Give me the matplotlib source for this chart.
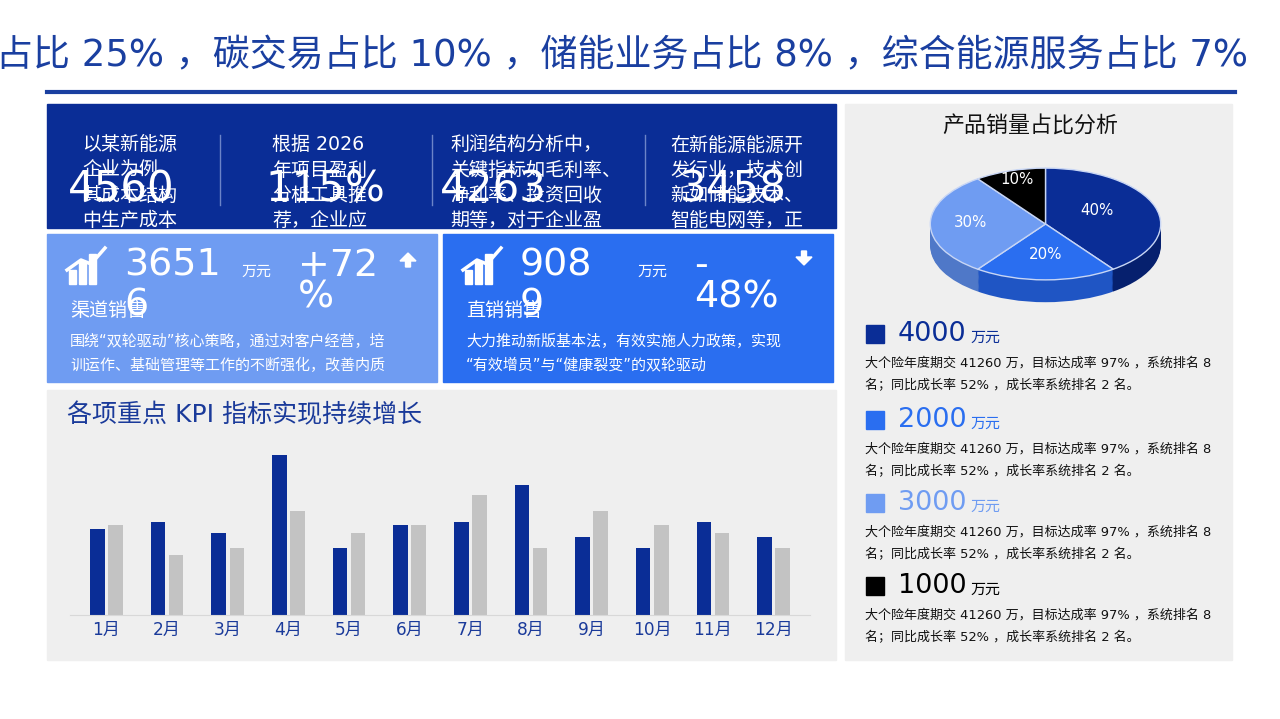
import matplotlib
matplotlib.use("Agg")
import matplotlib.pyplot as plt
from matplotlib.patches import Rectangle, FancyArrow

plt.rcParams['font.family'] = ['DejaVu Sans', 'Noto Sans CJK SC']

# data
months = ['1月', '2月', '3月', '4月', '5月', '6月', '7月', '8月', '9月', '10月', '11月', '12月']
kpi_blue = [86, 93, 82, 160, 67, 90, 93, 130, 78, 67, 93, 78]
kpi_gray = [90, 60, 67, 104, 82, 90, 120, 67, 104, 90, 82, 67]
pie_shares = [40, 20, 30, 10]
pie_labels = ['40%', '20%', '30%', '10%']
legend_values = ['4000', '2000', '3000', '1000']
top_numbers = ['4560', '115%', '4263', '3458']
top_texts = [['以某新能源', '企业为例', '其成本结构', '中生产成本'],
             ['根据 2026', '年项目盈利', '分析工具推', '荐，企业应'],
             ['利润结构分析中，', '关键指标如毛利率、', '净利率、投资回收', '期等，对于企业盈'],
             ['在新能源能源开', '发行业，技术创', '新如储能技术、', '智能电网等，正']]
desc = '大个险年度期交 41260 万，目标达成率 97% ，系统排名 8'
desc2 = '名；同比成长率 52% ，成长率系统排名 2 名。'

DARK = '#0a2d96'
MID = '#2a6ef0'
LIGHT = '#6f9cf2'
PANEL = '#efefef'
pie_colors = [DARK, MID, LIGHT, '#000000']
side_colors = ['#06206e', '#1f55c4', '#4f78c8', '#000000']

fig = plt.figure(figsize=(12.8, 7.19), dpi=100)
bg = fig.add_axes([0, 0, 1, 1])
bg.set_xlim(0, 1280)
bg.set_ylim(719, 0)
bg.axis('off')

def pt(px):
    return px * 0.72

# top scrolling title
bg.text(-4, 56, '占比 25% ，碳交易占比 10% ，储能业务占比 8% ，综合能源服务占比 7%',
        fontsize=pt(37), color='#1a3fa0', va='center', ha='left')
bg.plot([47, 1235], [92, 92], color='#1a3fa0', lw=3)

# dark top panel
top = Rectangle((47, 104), 789, 124, color=DARK)
bg.add_patch(top)
for x in [220, 432, 645]:
    bg.plot([x, x], [135, 205], color='#6c84c8', lw=1)
tx = [82, 272, 450, 670]
nx = [68, 265, 440, 680]
for i in range(4):
    for j, line in enumerate(top_texts[i]):
        t = bg.text(tx[i], 145 + j * 25, line, color='white', fontsize=pt(19), va='center')
        t.set_clip_path(top)
    t = bg.text(nx[i], 190, top_numbers[i], color='white', fontsize=pt(42), va='center')
    t.set_clip_path(top)

# two cards
def card(x0, color, num1, num2, pct1, pct2, name, lines, up):
    bg.add_patch(Rectangle((x0, 234), 390, 148, color=color))
    # icon
    for k, h in enumerate([14, 22, 30]):
        bg.add_patch(Rectangle((x0 + 22 + k * 10, 284 - h), 7, h, color='white'))
    bg.plot([x0 + 20, x0 + 34, x0 + 44, x0 + 58], [270, 260, 264, 248], color='white', lw=2.5)
    bg.text(x0 + 77, 266, num1, color='white', fontsize=pt(38), va='center')
    bg.text(x0 + 77, 306, num2, color='white', fontsize=pt(38), va='center')
    bg.text(x0 + 194, 271, '万元', color='white', fontsize=pt(15), va='center')
    bg.text(x0 + 251, 266, pct1, color='white', fontsize=pt(38), va='center')
    bg.text(x0 + 251, 298, pct2, color='white', fontsize=pt(38), va='center')
    dy = -14 if up else 14
    y0 = 267 if up else 251
    bg.add_patch(FancyArrow(x0 + 361, y0, 0, dy, width=5, head_width=16, head_length=8,
                            length_includes_head=True, color='white'))
    bg.text(x0 + 23, 311, name, color='white', fontsize=pt(19), va='center')
    for j, line in enumerate(lines):
        bg.text(x0 + 23, 341 + j * 24, line, color='white', fontsize=pt(15), va='center')

card(47, LIGHT, '3651', '6', '+72', '%', '渠道销售',
     ['围绕“双轮驱动”核心策略，通过对客户经营，培', '训运作、基础管理等工作的不断强化，改善内质'], True)
card(443, MID, '908', '9', '-', '48%', '直销销售',
     ['大力推动新版基本法，有效实施人力政策，实现', '“有效增员”与“健康裂变”的双轮驱动'], False)

# bar panel
bg.add_patch(Rectangle((47, 390), 789, 270, color=PANEL))
bg.text(67, 415, '各项重点 KPI 指标实现持续增长', color='#1a3a9a', fontsize=pt(25), va='center')

ax = fig.add_axes([70 / 1280, 1 - 615 / 719, 740 / 1280, 175 / 719])
ax.set_facecolor('none')
xs = range(len(months))
ax.bar([x - 0.15 for x in xs], kpi_blue, width=0.24, color=DARK)
ax.bar([x + 0.15 for x in xs], kpi_gray, width=0.24, color='#c3c3c3')
ax.set_xlim(-0.6, 11.6)
ax.set_ylim(0, 175)
ax.set_xticks(list(xs))
ax.set_xticklabels(months, color='#1a3a9a', fontsize=pt(17))
ax.tick_params(length=0, pad=4)
ax.set_yticks([])
for s in ['top', 'left', 'right']:
    ax.spines[s].set_visible(False)
ax.spines['bottom'].set_color('#d8d8d8')

# right panel
bg.add_patch(Rectangle((845, 104), 387, 556, color=PANEL))
bg.text(1030, 126, '产品销量占比分析', color='#111111', fontsize=pt(22), ha='center', va='center')

pax = fig.add_axes([928 / 1280, 1 - 305 / 719, 235 / 1280, 138 / 719])
for k in range(20, 0, -1):
    pax.pie(pie_shares, colors=side_colors, startangle=90, counterclock=False,
            center=(0, -k * 0.02), wedgeprops=dict(linewidth=0))
pax.pie(pie_shares, colors=pie_colors, startangle=90, counterclock=False,
        wedgeprops=dict(linewidth=1, edgecolor='#c8d6f5'))
lbl_pos = [(0.45, 0.25), (0.0, -0.55), (-0.65, 0.02), (-0.25, 0.8)]
for (lx, ly), s in zip(lbl_pos, pie_labels):
    pax.text(lx, ly, s, color='white', fontsize=pt(15), ha='center', va='center')
pax.set_aspect('auto')
pax.set_xlim(-1.02, 1.02)
pax.set_ylim(-1.45, 1.02)
pax.axis('off')

for i, v in enumerate(legend_values):
    y = [334, 420, 503, 586][i]
    c = pie_colors[i]
    bg.add_patch(Rectangle((866, y - 9), 18, 18, color=c))
    bg.text(898, y, v, color=c, fontsize=pt(27), va='center')
    bg.text(970, y + 3, '万元', color=c, fontsize=pt(15), va='center')
    bg.text(865, y + 29, desc, color='#111111', fontsize=pt(13), va='center')
    bg.text(865, y + 52, desc2, color='#111111', fontsize=pt(13), va='center')

fig.savefig('out.png', dpi=100)
